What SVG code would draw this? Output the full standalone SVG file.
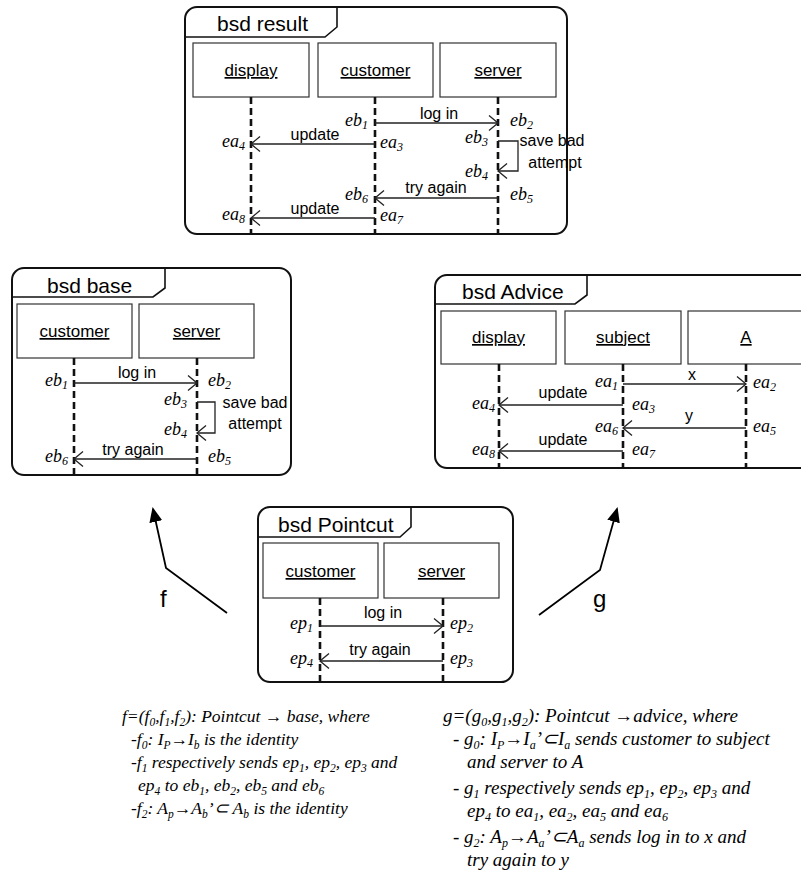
<svg xmlns="http://www.w3.org/2000/svg" width="801" height="885" viewBox="0 0 801 885">
<style>
.frame{fill:#fff;stroke:#111;stroke-width:2}
.tab{fill:none;stroke:#111;stroke-width:1.6}
.title{font-family:"Liberation Sans",Arial,sans-serif;font-size:21px;fill:#000}
.box{fill:#fff;stroke:#333;stroke-width:1.2}
.bl{font-family:"Liberation Sans",Arial,sans-serif;font-size:17px;fill:#000;text-anchor:middle;text-decoration:underline}
.life{stroke:#111;stroke-width:2.6;stroke-dasharray:7,4;fill:none}
.msg{stroke:#222;stroke-width:1.3;fill:none;marker-end:url(#op)}
.ml{font-family:"Liberation Sans",Arial,sans-serif;font-size:16px;fill:#000;text-anchor:middle}
.ev{font-family:"Liberation Serif","Times New Roman",serif;font-style:italic;font-size:18px;fill:#000}
.s{font-size:12px}
.map{stroke:#000;stroke-width:1.8;fill:none;marker-end:url(#fa)}
.big{font-family:"Liberation Sans",Arial,sans-serif;font-size:24px;fill:#000}
.tx{font-family:"Liberation Serif","Times New Roman",serif;font-style:italic;font-size:17.5px;fill:#000}
.tg{font-family:"Liberation Serif","Times New Roman",serif;font-style:italic;font-size:19px;fill:#000}
.ts{font-size:11.5px}
.tgs{font-size:12px}
</style>
<defs>
<marker id="op" markerWidth="12" markerHeight="16" refX="10" refY="8" orient="auto" markerUnits="userSpaceOnUse"><path d="M1,0.5 L10,8 L1,15.5" fill="none" stroke="#222" stroke-width="1.3"/></marker>
<marker id="fa" markerWidth="15" markerHeight="13" refX="13" refY="6.5" orient="auto" markerUnits="userSpaceOnUse"><path d="M0,0 L15,6.5 L0,13 z" fill="#000"/></marker>
</defs>
<rect width="801" height="885" fill="#fff"/>

<g id="bsd-result">
<rect class="frame" x="185" y="7" width="382" height="227" rx="12"/>
<path class="tab" d="M185,37 H325 L337,27 V7"/>
<text class="title" x="217" y="31">bsd result</text>
<rect class="box" x="193" y="43" width="116" height="54"/>
<rect class="box" x="318" y="43" width="115" height="54"/>
<rect class="box" x="440" y="43" width="116" height="54"/>
<text class="bl" x="251" y="76">display</text>
<text class="bl" x="375.5" y="76">customer</text>
<text class="bl" x="498" y="76">server</text>
<line class="life" x1="251" y1="97" x2="251" y2="234"/>
<line class="life" x1="375" y1="97" x2="375" y2="234"/>
<line class="life" x1="498" y1="97" x2="498" y2="234"/>
<line class="msg" x1="375" y1="123" x2="498" y2="123"/>
<text class="ml" x="439" y="119">log in</text>
<line class="msg" x1="375" y1="144" x2="251" y2="144"/>
<text class="ml" x="315" y="140">update</text>
<polyline class="msg" points="498,141 518,141 518,171 498,171"/>
<text class="ml" x="552" y="146">save bad</text>
<text class="ml" x="555" y="168">attempt</text>
<line class="msg" x1="498" y1="198" x2="375" y2="198"/>
<text class="ml" x="436" y="193">try again</text>
<line class="msg" x1="375" y1="218" x2="251" y2="218"/>
<text class="ml" x="315" y="214">update</text>
<text class="ev" x="368" y="126" text-anchor="end">eb<tspan class="s" dy="3">1</tspan></text>
<text class="ev" x="510" y="126">eb<tspan class="s" dy="3">2</tspan></text>
<text class="ev" x="245" y="147" text-anchor="end">ea<tspan class="s" dy="3">4</tspan></text>
<text class="ev" x="380" y="148">ea<tspan class="s" dy="3">3</tspan></text>
<text class="ev" x="488" y="143" text-anchor="end">eb<tspan class="s" dy="3">3</tspan></text>
<text class="ev" x="488" y="177" text-anchor="end">eb<tspan class="s" dy="3">4</tspan></text>
<text class="ev" x="368" y="200" text-anchor="end">eb<tspan class="s" dy="3">6</tspan></text>
<text class="ev" x="510" y="200">eb<tspan class="s" dy="3">5</tspan></text>
<text class="ev" x="245" y="220" text-anchor="end">ea<tspan class="s" dy="3">8</tspan></text>
<text class="ev" x="380" y="221">ea<tspan class="s" dy="3">7</tspan></text>
</g>

<g id="bsd-base">
<rect class="frame" x="12" y="268" width="279" height="207" rx="12"/>
<path class="tab" d="M12,297 H153 L165,288 V268"/>
<text class="title" x="47" y="293">bsd base</text>
<rect class="box" x="17" y="304" width="115" height="54"/>
<rect class="box" x="139" y="304" width="115" height="54"/>
<text class="bl" x="74.5" y="337">customer</text>
<text class="bl" x="196.5" y="337">server</text>
<line class="life" x1="74" y1="358" x2="74" y2="475"/>
<line class="life" x1="197" y1="358" x2="197" y2="475"/>
<line class="msg" x1="74" y1="383" x2="197" y2="383"/>
<text class="ml" x="137" y="378">log in</text>
<polyline class="msg" points="197,402 215,402 215,433 197,433"/>
<text class="ml" x="255" y="408">save bad</text>
<text class="ml" x="255" y="429">attempt</text>
<line class="msg" x1="197" y1="459" x2="74" y2="459"/>
<text class="ml" x="133" y="455">try again</text>
<text class="ev" x="68" y="386" text-anchor="end">eb<tspan class="s" dy="3">1</tspan></text>
<text class="ev" x="208" y="386">eb<tspan class="s" dy="3">2</tspan></text>
<text class="ev" x="187" y="405" text-anchor="end">eb<tspan class="s" dy="3">3</tspan></text>
<text class="ev" x="187" y="435" text-anchor="end">eb<tspan class="s" dy="3">4</tspan></text>
<text class="ev" x="68" y="462" text-anchor="end">eb<tspan class="s" dy="3">6</tspan></text>
<text class="ev" x="208" y="462">eb<tspan class="s" dy="3">5</tspan></text>
</g>

<g id="bsd-advice">
<rect class="frame" x="435" y="275" width="380" height="193" rx="12"/>
<path class="tab" d="M435,304 H575 L587,295 V275"/>
<text class="title" x="462" y="299">bsd Advice</text>
<rect class="box" x="441" y="311" width="115" height="53"/>
<rect class="box" x="565" y="311" width="116" height="53"/>
<rect class="box" x="688" y="311" width="130" height="53"/>
<text class="bl" x="498.5" y="343">display</text>
<text class="bl" x="623" y="343">subject</text>
<text class="bl" x="746" y="343">A</text>
<line class="life" x1="499" y1="364" x2="499" y2="468"/>
<line class="life" x1="623" y1="364" x2="623" y2="468"/>
<line class="life" x1="746" y1="364" x2="746" y2="468"/>
<line class="msg" x1="623" y1="384" x2="746" y2="384"/>
<text class="ml" x="692" y="380">x</text>
<line class="msg" x1="623" y1="405" x2="499" y2="405"/>
<text class="ml" x="563" y="398">update</text>
<line class="msg" x1="746" y1="428" x2="623" y2="428"/>
<text class="ml" x="689" y="421">y</text>
<line class="msg" x1="623" y1="451" x2="499" y2="451"/>
<text class="ml" x="563" y="445">update</text>
<text class="ev" x="618" y="387" text-anchor="end">ea<tspan class="s" dy="3">1</tspan></text>
<text class="ev" x="753" y="388">ea<tspan class="s" dy="3">2</tspan></text>
<text class="ev" x="495" y="409" text-anchor="end">ea<tspan class="s" dy="3">4</tspan></text>
<text class="ev" x="632" y="410">ea<tspan class="s" dy="3">3</tspan></text>
<text class="ev" x="618" y="432" text-anchor="end">ea<tspan class="s" dy="3">6</tspan></text>
<text class="ev" x="753" y="432">ea<tspan class="s" dy="3">5</tspan></text>
<text class="ev" x="495" y="455" text-anchor="end">ea<tspan class="s" dy="3">8</tspan></text>
<text class="ev" x="632" y="455">ea<tspan class="s" dy="3">7</tspan></text>
</g>

<g id="bsd-pointcut">
<rect class="frame" x="258" y="507" width="255" height="175" rx="12"/>
<path class="tab" d="M258,537 H400 L411,527 V507"/>
<text class="title" x="278" y="532">bsd Pointcut</text>
<rect class="box" x="263" y="543" width="115" height="55"/>
<rect class="box" x="384" y="543" width="115" height="55"/>
<text class="bl" x="320.5" y="577">customer</text>
<text class="bl" x="441.5" y="577">server</text>
<line class="life" x1="320" y1="598" x2="320" y2="682"/>
<line class="life" x1="443" y1="598" x2="443" y2="682"/>
<line class="msg" x1="320" y1="626" x2="443" y2="626"/>
<text class="ml" x="383" y="618">log in</text>
<line class="msg" x1="443" y1="661" x2="320" y2="661"/>
<text class="ml" x="380" y="655">try again</text>
<text class="ev" x="313" y="629" text-anchor="end">ep<tspan class="s" dy="3">1</tspan></text>
<text class="ev" x="450" y="629">ep<tspan class="s" dy="3">2</tspan></text>
<text class="ev" x="313" y="664" text-anchor="end">ep<tspan class="s" dy="3">4</tspan></text>
<text class="ev" x="450" y="664">ep<tspan class="s" dy="3">3</tspan></text>
</g>

<g id="connectors">
<path id="f-map" class="map" d="M227,613 L166,568 L153,509"/>
<text class="big" x="160" y="607">f</text>
<path id="g-map" class="map" d="M539,615 L600,570 L617,509"/>
<text class="big" x="593" y="607">g</text>
</g>

<g id="text-f">
<text class="tx" x="122" y="722">f=(f<tspan class="ts" dy="4">0</tspan><tspan dy="-4">,f</tspan><tspan class="ts" dy="4">1</tspan><tspan dy="-4">,f</tspan><tspan class="ts" dy="4">2</tspan><tspan dy="-4">): Pointcut → base, where</tspan></text>
<text class="tx" x="131" y="745">-f<tspan class="ts" dy="4">0</tspan><tspan dy="-4">: I</tspan><tspan class="ts" dy="4">P</tspan><tspan dy="-4">→I</tspan><tspan class="ts" dy="4">b</tspan><tspan dy="-4"> is the identity</tspan></text>
<text class="tx" x="131" y="768">-f<tspan class="ts" dy="4">1</tspan><tspan dy="-4"> respectively sends ep</tspan><tspan class="ts" dy="4">1</tspan><tspan dy="-4">, ep</tspan><tspan class="ts" dy="4">2</tspan><tspan dy="-4">, ep</tspan><tspan class="ts" dy="4">3</tspan><tspan dy="-4"> and</tspan></text>
<text class="tx" x="138" y="791">ep<tspan class="ts" dy="4">4</tspan><tspan dy="-4"> to eb</tspan><tspan class="ts" dy="4">1</tspan><tspan dy="-4">, eb</tspan><tspan class="ts" dy="4">2</tspan><tspan dy="-4">, eb</tspan><tspan class="ts" dy="4">5</tspan><tspan dy="-4"> and eb</tspan><tspan class="ts" dy="4">6</tspan></text>
<text class="tx" x="131" y="814">-f<tspan class="ts" dy="4">2</tspan><tspan dy="-4">: A</tspan><tspan class="ts" dy="4">p</tspan><tspan dy="-4">→A</tspan><tspan class="ts" dy="4">b</tspan><tspan dy="-4">’⊂ A</tspan><tspan class="ts" dy="4">b</tspan><tspan dy="-4">  is the identity</tspan></text>
</g>

<g id="text-g">
<text class="tg" x="443" y="722">g=(g<tspan class="tgs" dy="4">0</tspan><tspan dy="-4">,g</tspan><tspan class="tgs" dy="4">1</tspan><tspan dy="-4">,g</tspan><tspan class="tgs" dy="4">2</tspan><tspan dy="-4">): Pointcut →advice, where</tspan></text>
<text class="tg" x="453" y="745">- g<tspan class="tgs" dy="4">0</tspan><tspan dy="-4">: I</tspan><tspan class="tgs" dy="4">P</tspan><tspan dy="-4">→I</tspan><tspan class="tgs" dy="4">a</tspan><tspan dy="-4">’⊂I</tspan><tspan class="tgs" dy="4">a</tspan><tspan dy="-4">  sends customer to subject</tspan></text>
<text class="tg" x="467" y="768">and server to A</text>
<text class="tg" x="453" y="794">- g<tspan class="tgs" dy="4">1</tspan><tspan dy="-4"> respectively sends ep</tspan><tspan class="tgs" dy="4">1</tspan><tspan dy="-4">, ep</tspan><tspan class="tgs" dy="4">2</tspan><tspan dy="-4">, ep</tspan><tspan class="tgs" dy="4">3</tspan><tspan dy="-4"> and</tspan></text>
<text class="tg" x="467" y="817">ep<tspan class="tgs" dy="4">4</tspan><tspan dy="-4"> to ea</tspan><tspan class="tgs" dy="4">1</tspan><tspan dy="-4">, ea</tspan><tspan class="tgs" dy="4">2</tspan><tspan dy="-4">, ea</tspan><tspan class="tgs" dy="4">5</tspan><tspan dy="-4"> and ea</tspan><tspan class="tgs" dy="4">6</tspan></text>
<text class="tg" x="453" y="843">- g<tspan class="tgs" dy="4">2</tspan><tspan dy="-4">: A</tspan><tspan class="tgs" dy="4">p</tspan><tspan dy="-4">→A</tspan><tspan class="tgs" dy="4">a</tspan><tspan dy="-4">’⊂A</tspan><tspan class="tgs" dy="4">a</tspan><tspan dy="-4">  sends log in to x and</tspan></text>
<text class="tg" x="467" y="866">try again to y</text>
</g>
</svg>
